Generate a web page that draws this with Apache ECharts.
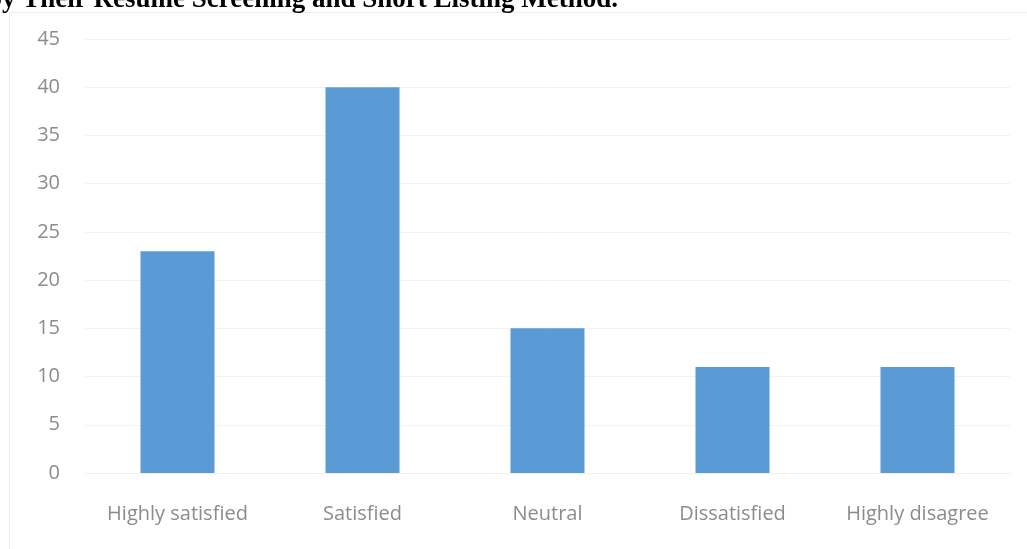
<!DOCTYPE html>
<html>
<head>
<meta charset="utf-8">
<script src="https://cdn.jsdelivr.net/npm/echarts@6/dist/echarts.min.js"></script>
<style>
  html, body { margin: 0; padding: 0; background: #ffffff; }
  #chart { width: 1027px; height: 549px; }
</style>
</head>
<body>
<div id="chart"></div>
<script>
// Satisfaction with resume screening and short listing method
const categories = ['Highly satisfied', 'Satisfied', 'Neutral', 'Dissatisfied', 'Highly disagree'];
const responses = [23, 40, 15, 11, 11];
const titleText = 'by Their Resume Screening and Short Listing Method.';

const chart = echarts.init(document.getElementById('chart'));
const labelFont = '"Open Sans", "Noto Sans", sans-serif';

chart.setOption({
  backgroundColor: '#ffffff',
  animation: false,
  graphic: [
    {
      type: 'rect',
      left: 7, top: 10,
      shape: { width: 1100, height: 600 },
      style: { fill: 'none', stroke: '#ececec', lineWidth: 1 },
      z: 0
    },
    {
      type: 'text',
      left: -13, top: -13,
      style: {
        text: titleText,
        font: 'bold 27px "Liberation Serif", "Times New Roman", serif',
        fill: '#000000'
      },
      z: 10
    }
  ],
  grid: { left: 85, right: 17, top: 39, bottom: 76, containLabel: false },
  xAxis: {
    type: 'category',
    data: categories,
    axisLine: { show: true, lineStyle: { color: '#f0f0f0', width: 1 } },
    axisTick: { show: false },
    axisLabel: { color: '#8c8c8c', fontSize: 20, fontFamily: labelFont, margin: 31, interval: 0 }
  },
  yAxis: {
    type: 'value',
    min: 0, max: 45, interval: 5,
    axisLine: { show: false },
    axisTick: { show: false },
    splitLine: { lineStyle: { color: '#f2f2f2', width: 1 } },
    axisLabel: { color: '#8c8c8c', fontSize: 20, fontFamily: labelFont, margin: 25 }
  },
  series: [{
    type: 'bar',
    data: responses,
    barWidth: '40%',
    itemStyle: { color: '#5b9bd5' }
  }]
});
</script>
</body>
</html>
